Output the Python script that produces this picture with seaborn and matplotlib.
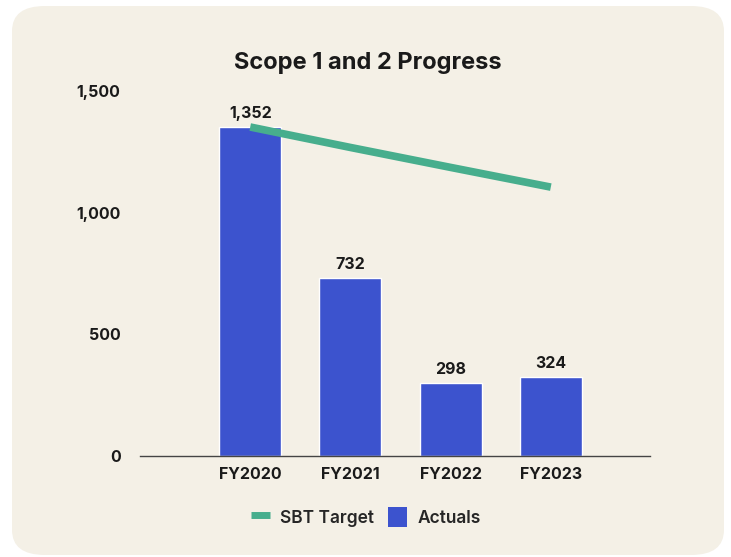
import matplotlib
matplotlib.use('Agg')
import matplotlib.pyplot as plt
import seaborn as sns
import pandas as pd
from matplotlib.patches import FancyBboxPatch, Patch
from matplotlib.lines import Line2D
from matplotlib.ticker import FuncFormatter

# data
years = ['FY2020', 'FY2021', 'FY2022', 'FY2023']
actuals = [1352, 732, 298, 324]
sbt_target = [1352, 1268, 1186, 1105]

bar_color = '#3C53CE'
line_color = '#47AE8D'
panel_color = '#F4F0E6'

sns.set_theme(style='white')
plt.rcParams['font.family'] = ['Inter', 'DejaVu Sans']

fig = plt.figure(figsize=(7.31, 5.57), dpi=100, facecolor='white')

# rounded beige panel behind everything
panel = FancyBboxPatch((12 / 731, 2 / 557), 712 / 731, 549 / 557,
                       boxstyle='round,pad=0,rounding_size=0.045',
                       transform=fig.transFigure, facecolor=panel_color,
                       edgecolor='none', zorder=-10)
fig.patches.append(panel)

ax = fig.add_axes([140 / 731, 1 - 456 / 557, 510 / 731, 365 / 557])
ax.set_facecolor('none')

df = pd.DataFrame({'year': years, 'actual': actuals, 'target': sbt_target})
sns.barplot(data=df, x='year', y='actual', color=bar_color, width=0.62,
            saturation=1, ax=ax, zorder=2)
ax.plot(range(len(years)), df['target'], color=line_color, lw=5.5,
        solid_capstyle='butt', zorder=3)

for i, v in enumerate(actuals):
    ax.text(i, v + 25, f'{v:,}', ha='center', va='bottom', fontsize=11.5,
            fontweight='bold', color='#1a1a1a')

ax.set_xlim(-1.1, 3.99)
ax.set_ylim(0, 1500)
ax.set_yticks([0, 500, 1000, 1500])
ax.yaxis.set_major_formatter(FuncFormatter(lambda v, p: f'{int(v):,}'))
ax.set_xlabel('')
ax.set_ylabel('')
for s in ['top', 'right', 'left']:
    ax.spines[s].set_visible(False)
ax.spines['bottom'].set_color('#444444')
ax.spines['bottom'].set_linewidth(1)
ax.tick_params(axis='both', length=0, labelsize=11.5, colors='#1a1a1a')
ax.tick_params(axis='y', pad=14)
ax.tick_params(axis='x', pad=8)
for lbl in ax.get_xticklabels() + ax.get_yticklabels():
    lbl.set_fontweight('bold')

fig.text(368 / 731, 1 - 63 / 557, 'Scope 1 and 2 Progress', ha='center',
         va='center', fontsize=17, fontweight='bold', color='#1a1a1a')

handles = [Line2D([0], [0], color=line_color, lw=5, solid_capstyle='butt'),
           Patch(facecolor=bar_color, edgecolor='none')]
leg = fig.legend(handles, ['SBT Target', 'Actuals'], loc='center',
                 bbox_to_anchor=(366 / 731, 1 - 517 / 557), ncol=2,
                 frameon=False, fontsize=12.5, handlelength=1.1,
                 handleheight=1.4, handletextpad=0.6, columnspacing=0.8)
for t in leg.get_texts():
    t.set_fontweight('semibold')

fig.savefig('out.png', dpi=100, facecolor='white')
